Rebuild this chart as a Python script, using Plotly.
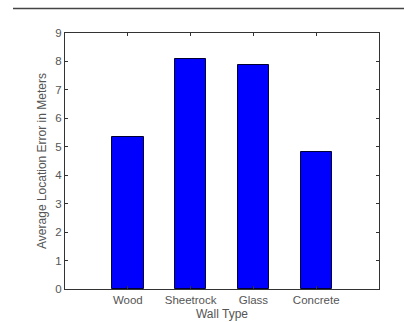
import plotly.graph_objects as go

# Average location error per wall type
wall_types = ["Wood", "Sheetrock", "Glass", "Concrete"]
avg_error_m = [5.35, 8.1, 7.87, 4.83]
y_ticks = [0, 1, 2, 3, 4, 5, 6, 7, 8, 9]

positions = list(range(1, len(wall_types) + 1))

fig = go.Figure(
    go.Bar(
        x=positions,
        y=avg_error_m,
        width=0.5,
        marker=dict(color="#0000FF", line=dict(color="#000033", width=1)),
    )
)

axis_font = dict(family="Liberation Sans, Arial, sans-serif", size=11.5, color="#555555")
title_font = dict(family="Liberation Sans, Arial, sans-serif", size=12, color="#555555")

fig.update_layout(
    width=404,
    height=322,
    margin=dict(l=65, r=25, t=33, b=33, autoexpand=False),
    paper_bgcolor="white",
    plot_bgcolor="white",
    showlegend=False,
    font=axis_font,
    bargap=0,
)

fig.update_xaxes(
    range=[0, 5],
    tickvals=positions,
    ticktext=wall_types,
    ticks="inside",
    ticklen=3,
    tickcolor="#333333",
    showline=True,
    linecolor="#333333",
    linewidth=1,
    mirror="ticks",
    showgrid=False,
    zeroline=False,
    automargin=False,
    tickfont=axis_font,
    ticklabelstandoff=0,
    title=dict(text="Wall Type", font=title_font, standoff=4),
)

fig.update_yaxes(
    range=[0, 9],
    tickvals=y_ticks,
    ticks="inside",
    ticklen=3,
    tickcolor="#333333",
    showline=True,
    linecolor="#333333",
    linewidth=1,
    mirror="ticks",
    showgrid=False,
    zeroline=False,
    automargin=False,
    tickfont=axis_font,
    title=dict(text="Average Location Error in Meters", font=title_font, standoff=6),
)

# Horizontal rule across the top of the page
fig.add_shape(
    type="line",
    xref="paper",
    yref="paper",
    x0=(13 - 65) / 314,
    x1=(404 - 65) / 314,
    y0=(289 - 8.5) / 256,
    y1=(289 - 8.5) / 256,
    line=dict(color="#444444", width=1.5),
)

fig.write_html("out.html")
